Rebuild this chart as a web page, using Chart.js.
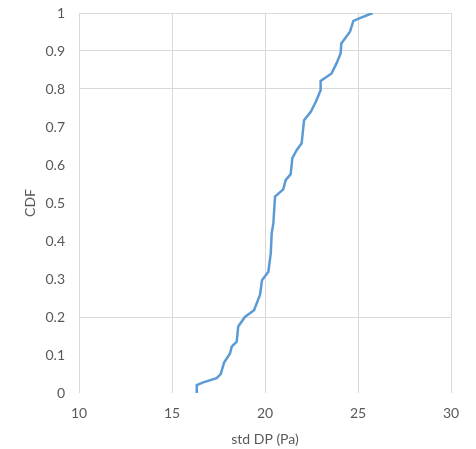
<!DOCTYPE html>
<html>
<head>
<meta charset="utf-8">
<script src="https://cdn.jsdelivr.net/npm/chart.js@4/dist/chart.umd.min.js"></script>
<style>
    html, body { margin: 0; padding: 0; background: #fff; }
    #wrap { width: 476px; height: 449px; }
</style>
</head>
<body>
<div id="wrap"><canvas id="cdfChart" width="476" height="449"></canvas></div>
<script>
// std DP values (Pa) and matching cumulative fraction
const stdDP = [16.33, 16.33, 16.68, 17.40, 17.62, 17.80, 18.12, 18.21, 18.48, 18.56,
    18.92, 19.41, 19.73, 19.84, 20.18, 20.31, 20.36, 20.45, 20.54, 20.98,
    21.11, 21.38, 21.47, 21.70, 21.97, 22.10, 22.46, 22.74, 22.99, 22.99,
    23.58, 23.85, 24.07, 24.10, 24.57, 24.75, 25.07, 25.79];
const cdf = [0, 0.021, 0.028, 0.039, 0.05, 0.08, 0.104, 0.122, 0.135, 0.175,
    0.20, 0.218, 0.258, 0.297, 0.319, 0.368, 0.42, 0.447, 0.517, 0.536,
    0.56, 0.576, 0.618, 0.639, 0.657, 0.718, 0.74, 0.767, 0.797, 0.821,
    0.841, 0.868, 0.894, 0.92, 0.951, 0.979, 0.986, 1.0];

// gridlines that show up in the picture
const visibleYGrid = [0.2, 0.8, 0.9, 1];

const textColor = '#595959';
const gridColor = '#d9d9d9';
const fontFamily = 'Lato, "Liberation Sans", sans-serif';

document.addEventListener('DOMContentLoaded', function() {
    const ctx = document.getElementById('cdfChart').getContext('2d');

    new Chart(ctx, {
        type: 'scatter',
        data: {
            datasets: [{
                data: stdDP.map((x, i) => ({ x: x, y: cdf[i] })),
                showLine: true,
                borderColor: '#5b9bd5',
                borderWidth: 2.5,
                pointRadius: 0,
                tension: 0,
                fill: false
            }]
        },
        options: {
            responsive: false,
            animation: false,
            layout: {
                padding: { top: 13, right: 25, left: 0, bottom: 0 }
            },
            plugins: {
                legend: { display: false },
                tooltip: { enabled: false }
            },
            scales: {
                x: {
                    type: 'linear',
                    min: 10,
                    max: 30,
                    ticks: {
                        stepSize: 5,
                        color: textColor,
                        padding: 12,
                        font: { family: fontFamily, size: 14 }
                    },
                    grid: {
                        color: gridColor,
                        lineWidth: 1,
                        drawTicks: false
                    },
                    border: { display: false },
                    title: {
                        display: true,
                        text: 'std DP (Pa)',
                        color: textColor,
                        font: { family: fontFamily, size: 14 },
                        padding: { top: 0, bottom: 1 }
                    },
                    afterFit: function(scale) {
                        scale.height = 56;
                    }
                },
                y: {
                    min: 0,
                    max: 1,
                    ticks: {
                        stepSize: 0.1,
                        color: textColor,
                        padding: 14,
                        font: { family: fontFamily, size: 14 },
                        callback: function(value) {
                            return String(Math.round(value * 10) / 10);
                        }
                    },
                    grid: {
                        color: function(c) {
                            const v = Math.round(c.tick.value * 10) / 10;
                            return visibleYGrid.includes(v) ? gridColor : 'rgba(0,0,0,0)';
                        },
                        lineWidth: 1,
                        drawTicks: false
                    },
                    border: { display: false },
                    title: {
                        display: true,
                        text: 'CDF',
                        color: textColor,
                        font: { family: fontFamily, size: 14 },
                        padding: { top: 22, bottom: 0 }
                    },
                    afterFit: function(scale) {
                        scale.width = 79;
                        scale.paddingTop = 0;
                        scale.paddingBottom = 0;
                    }
                }
            }
        }
    });
});
</script>
</body>
</html>
